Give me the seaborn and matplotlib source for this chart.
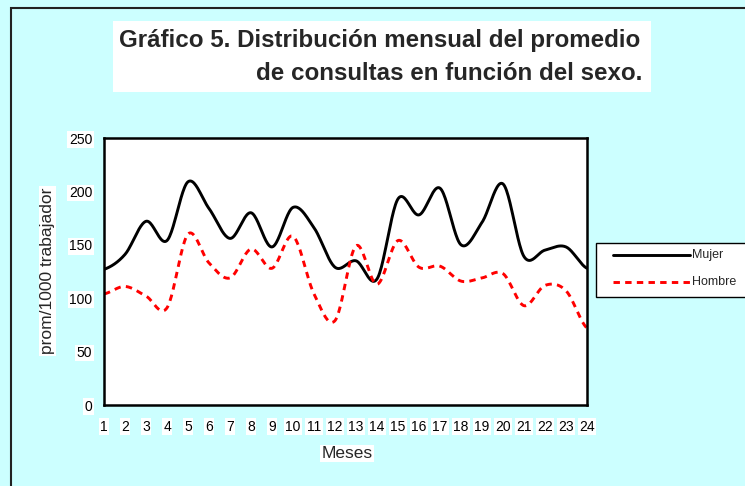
import numpy as np
import pandas as pd
import matplotlib
matplotlib.use("Agg")
import matplotlib.pyplot as plt
from matplotlib.lines import Line2D
from matplotlib.patches import Rectangle
import seaborn as sns

meses = list(range(1, 25))
mujer = [127, 141, 172, 154, 209, 184, 156, 180, 148, 185, 166, 129,
         135, 118, 193, 178, 203, 150, 171, 207, 139, 145, 148, 128]
hombre = [104, 111, 102, 91, 160, 133, 119, 146, 128, 158, 104, 79,
          149, 113, 154, 129, 130, 116, 119, 123, 93, 112, 107, 72]
series_names = ["Mujer", "Hombre"]
title1 = "Gráfico 5. Distribución mensual del promedio"
title2 = "de consultas en función del sexo."
xlabel = "Meses"
ylabel = "prom/1000 trabajador"
yticks = [0, 50, 100, 150, 200, 250]


def smooth(xs, ys, n=24):
    xs = np.asarray(xs, float)
    ys = np.asarray(ys, float)
    px = np.concatenate([[2 * xs[0] - xs[1]], xs, [2 * xs[-1] - xs[-2]]])
    py = np.concatenate([[ys[0]], ys, [ys[-1]]])
    ox, oy = [], []
    for i in range(1, len(px) - 2):
        t = np.linspace(0, 1, n, endpoint=False)
        for p, out in ((px, ox), (py, oy)):
            p0, p1, p2, p3 = p[i - 1], p[i], p[i + 1], p[i + 2]
            m1 = (p2 - p0) / 2
            m2 = (p3 - p1) / 2
            h00 = 2 * t**3 - 3 * t**2 + 1
            h10 = t**3 - 2 * t**2 + t
            h01 = -2 * t**3 + 3 * t**2
            h11 = t**3 - t**2
            out.extend(h00 * p1 + h10 * m1 + h01 * p2 + h11 * m2)
    ox.append(xs[-1])
    oy.append(ys[-1])
    return np.array(ox), np.array(oy)


sns.set_style("white")
plt.rcParams["font.family"] = ["Liberation Sans", "DejaVu Sans"]

bg = "#CCFFFF"
W, H = 745, 486
fig = plt.figure(figsize=(7.45, 4.86), dpi=100, facecolor=bg)
ax = fig.add_axes([104 / W, 1 - 405 / H, 483 / W, 267 / H])
ax.set_facecolor("white")

dash = (0, (2.2, 1.8))
mx, my = smooth(meses, mujer)
hx, hy = smooth(meses, hombre)
df_m = pd.DataFrame({"x": mx, "y": my})
df_h = pd.DataFrame({"x": hx, "y": hy})
sns.lineplot(data=df_m, x="x", y="y", ax=ax, color="black", lw=2.1,
             sort=False, estimator=None)
sns.lineplot(data=df_h, x="x", y="y", ax=ax, color="red", lw=2.1,
             linestyle=dash, sort=False, estimator=None)

ax.set_xlim(1, 24)
ax.set_ylim(0, 250)
ax.set_xticks(meses)
ax.set_yticks(yticks)
ax.tick_params(axis="both", direction="inout", length=7, width=1,
               labelsize=10, colors="black")
ax.tick_params(axis="x", pad=7)
ax.tick_params(axis="y", pad=5)
for sp in ax.spines.values():
    sp.set_visible(True)
    sp.set_color("black")
    sp.set_linewidth(1.8)
for lab in ax.get_xticklabels() + ax.get_yticklabels():
    lab.set_bbox(dict(facecolor="white", edgecolor="none", pad=1))

ax.set_xlabel(xlabel, fontsize=12.5,
              bbox=dict(facecolor="white", edgecolor="none", pad=1))
ax.set_ylabel(ylabel, fontsize=12.5,
              bbox=dict(facecolor="white", edgecolor="none", pad=1))
ax.xaxis.set_label_coords((347 - 104) / 483, -(446 - 405) / 267)
ax.yaxis.set_label_coords((55 - 104) / 483, (405 - 271) / 267)

# title box
fig.patches.append(Rectangle((113 / W, 1 - 92 / H), (651 - 113) / W,
                             (92 - 21) / H, transform=fig.transFigure,
                             facecolor="white", edgecolor="none", zorder=0))
fig.text(119 / W, 1 - 40 / H, title1, fontsize=17.4, fontweight="bold",
         ha="left", va="center")
fig.text(642 / W, 1 - 73 / H, title2, fontsize=17.4, fontweight="bold",
         ha="right", va="center")

# figure border
fig.patches.append(Rectangle((11 / W, -0.01), 1.2, 1 - 8 / H + 0.01,
                             transform=fig.transFigure, facecolor="none",
                             edgecolor="#222222", lw=1.5, zorder=1))

# legend box
fig.patches.append(Rectangle((596 / W, 1 - 297 / H), (760 - 596) / W,
                             (297 - 243) / H, transform=fig.transFigure,
                             facecolor="white", edgecolor="black", lw=1.0,
                             zorder=2))
for name, yy, col, ls in [(series_names[0], 255, "black", "-"),
                          (series_names[1], 282, "red", dash)]:
    fig.add_artist(Line2D([613 / W, 690 / W], [1 - yy / H, 1 - yy / H],
                          transform=fig.transFigure, color=col, lw=2.1,
                          linestyle=ls, zorder=3))
    fig.text(692 / W, 1 - yy / H, name, fontsize=9, ha="left", va="center",
             zorder=3)

fig.savefig("out.png", dpi=100, facecolor=bg)
